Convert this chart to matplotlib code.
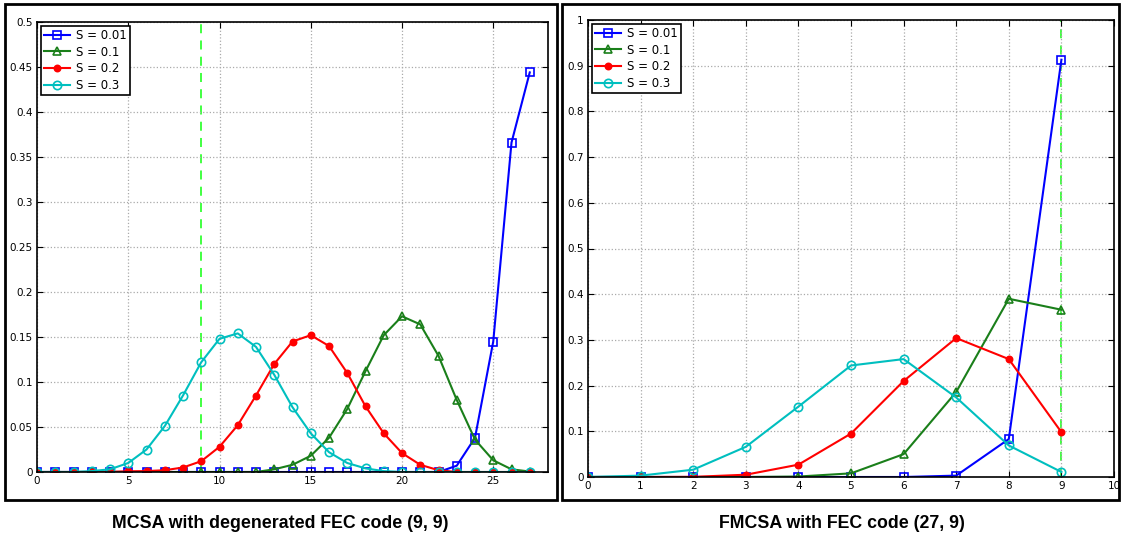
import numpy as np
import matplotlib.pyplot as plt
from matplotlib.patches import Rectangle

# left panel: MCSA, x = 0..27
x_left = np.arange(28)
left_s001 = [0] * 23 + [0.007, 0.038, 0.145, 0.366, 0.444]
left_s01 = [0] * 13 + [0.003, 0.008, 0.018, 0.038, 0.070, 0.112, 0.152, 0.173,
                       0.164, 0.129, 0.080, 0.036, 0.013, 0.003, 0.0005]
left_s02 = [0, 0, 0, 0, 0.0002, 0.0008, 0.001, 0.002, 0.005, 0.012, 0.028, 0.052,
            0.085, 0.120, 0.145, 0.152, 0.140, 0.110, 0.073, 0.043, 0.021, 0.008,
            0.002, 0, 0, 0, 0, 0]
left_s03 = [0, 0, 0, 0.001, 0.003, 0.010, 0.025, 0.051, 0.085, 0.122, 0.148, 0.154,
            0.139, 0.108, 0.072, 0.043, 0.022, 0.010, 0.004, 0.001, 0, 0, 0, 0,
            0, 0, 0, 0]

# right panel: FMCSA, x = 0..9
x_right = np.arange(10)
right_s001 = [0, 0, 0, 0, 0, 0, 0, 0.003, 0.083, 0.913]
right_s01 = [0, 0, 0, 0, 0.001, 0.008, 0.050, 0.186, 0.390, 0.366]
right_s02 = [0, 0, 0.0003, 0.005, 0.027, 0.095, 0.210, 0.304, 0.258, 0.098]
right_s03 = [0, 0.003, 0.016, 0.066, 0.154, 0.244, 0.258, 0.174, 0.069, 0.011]

labels = ['S = 0.01', 'S = 0.1', 'S = 0.2', 'S = 0.3']
colors = ['#0000ff', '#1a7f1a', '#ff0000', '#00bfbf']
markers = ['s', '^', 'o', 'o']

fig = plt.figure(figsize=(11.22, 5.4), dpi=100)

# panel frames
fig.patches.append(Rectangle((5 / 1122, 40 / 540), 552 / 1122, 496 / 540,
                             transform=fig.transFigure, fill=False,
                             edgecolor='black', linewidth=2))
fig.patches.append(Rectangle((562 / 1122, 40 / 540), 557 / 1122, 496 / 540,
                             transform=fig.transFigure, fill=False,
                             edgecolor='black', linewidth=2))

ax1 = fig.add_axes([37 / 1122, 68 / 540, 511 / 1122, 450 / 540])
ax2 = fig.add_axes([588 / 1122, 63 / 540, 526 / 1122, 457 / 540])


def draw(ax, x, series):
    for y, lab, c, m in zip(series, labels, colors, markers):
        filled = (m == 'o' and c == '#ff0000')
        ax.plot(x, y, color=c, marker=m, markersize=6 if not filled else 4.5,
                markerfacecolor=c if filled else 'none', markeredgecolor=c,
                markeredgewidth=1.2, linewidth=1.5, label=lab)
    ax.grid(True, linestyle=':', color='#aaaaaa', linewidth=0.9)
    ax.tick_params(direction='in', top=True, right=True, labelsize=7.5,
                   length=4, pad=3)
    for sp in ax.spines.values():
        sp.set_linewidth(1.2)
    leg = ax.legend(loc='upper left', fontsize=8.5, fancybox=False,
                    framealpha=1, edgecolor='black', borderpad=0.3,
                    labelspacing=0.3, handlelength=2.2, handletextpad=0.5,
                    borderaxespad=0.3)
    leg.get_frame().set_linewidth(1.2)


draw(ax1, x_left, [left_s001, left_s01, left_s02, left_s03])
ax1.axvline(9, color='#33ff33', linestyle=(0, (5, 4)), linewidth=1.3, zorder=1)
ax1.set_xlim(0, 28)
ax1.set_ylim(0, 0.5)
ax1.set_xticks([0, 5, 10, 15, 20, 25])
ax1.set_yticks(np.arange(0, 0.51, 0.05))
ax1.set_yticklabels(['0', '0.05', '0.1', '0.15', '0.2', '0.25', '0.3', '0.35',
                     '0.4', '0.45', '0.5'])

draw(ax2, x_right, [right_s001, right_s01, right_s02, right_s03])
ax2.axvline(9, color='#33ff33', linestyle=(0, (5, 4)), linewidth=1.3, zorder=1)
ax2.set_xlim(0, 10)
ax2.set_ylim(0, 1)
ax2.set_xticks(range(11))
ax2.set_yticks(np.arange(0, 1.01, 0.1))
ax2.set_yticklabels(['0', '0.1', '0.2', '0.3', '0.4', '0.5', '0.6', '0.7',
                     '0.8', '0.9', '1'])

fig.text(280 / 1122, 1 - 524 / 540, 'MCSA with degenerated FEC code (9, 9)',
         ha='center', va='center', fontsize=12.8, fontweight='bold',
         family='Liberation Sans')
fig.text(842 / 1122, 1 - 524 / 540, 'FMCSA with FEC code (27, 9)',
         ha='center', va='center', fontsize=12.8, fontweight='bold',
         family='Liberation Sans')

plt.savefig('out.png', dpi=100)
